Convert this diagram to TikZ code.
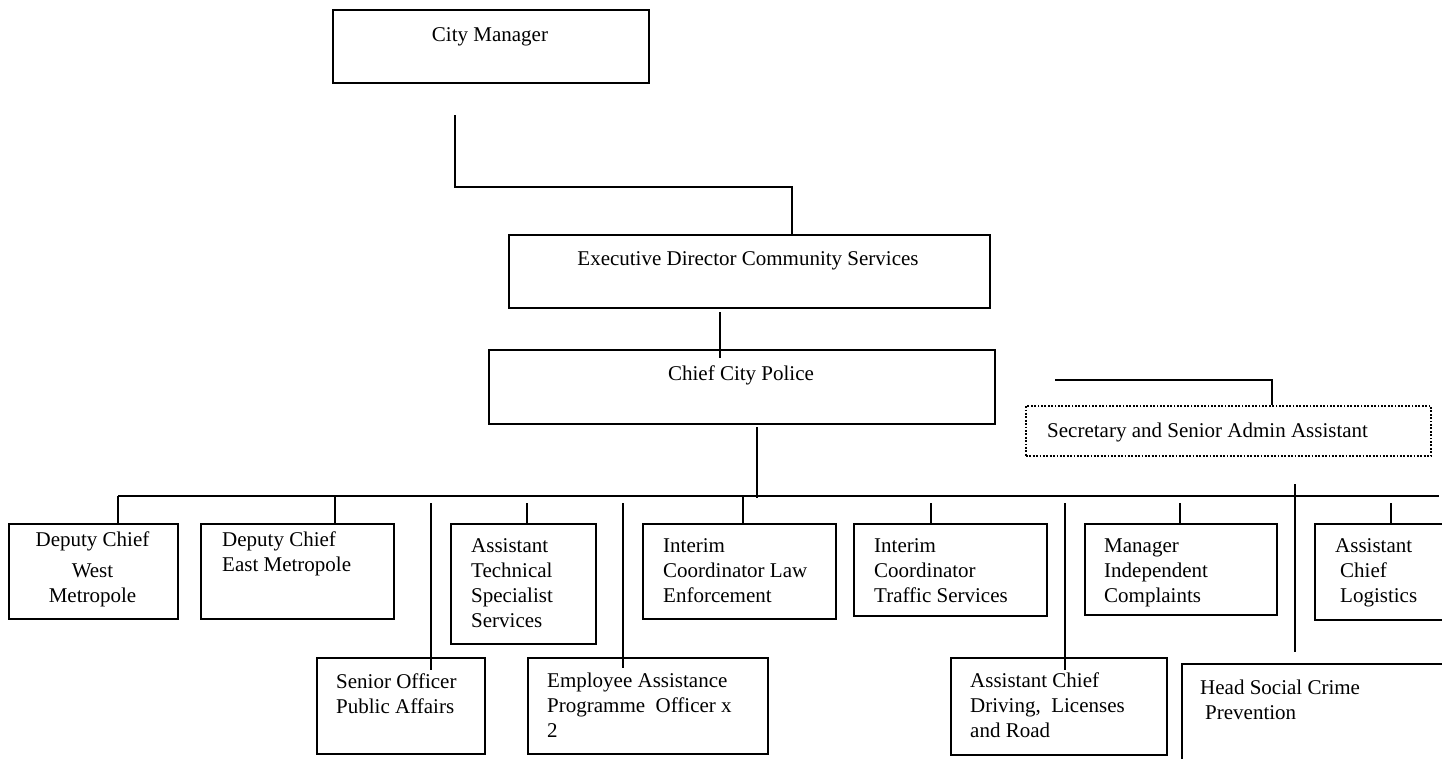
\documentclass[tikz,border=0pt]{standalone}
\usepackage{fontspec}
\setmainfont{Liberation Serif}
\newcommand{\lefttab}[1]{\begin{tabular}[t]{@{}l@{}}#1\end{tabular}}
\newcommand{\centtab}[1]{\begin{tabular}[t]{@{}c@{}}#1\end{tabular}}
\begin{document}
\begin{tikzpicture}[x=1pt,y=-1pt,
  box/.style={draw, line width=1.6pt, rectangle, inner sep=0pt, anchor=north west},
  dotbox/.style={box, dash pattern=on 1.8pt off 1.6pt, line width=1.8pt},
  txt/.style={inner sep=0pt, font=\fontsize{21}{25}\selectfont},
  ltxt/.style={txt, anchor=base west},
  ctxt/.style={txt, anchor=base},
  conn/.style={line width=1.6pt}]
\useasboundingbox (0,0) rectangle (1442,758);
\clip (0,0) rectangle (1442,758);

% top boxes
\node[box, minimum width=316pt, minimum height=73pt] (cm) at (332,9) {};
\node[ctxt] (cmt) at (490,41) {\centtab{City Manager}};
\node[box, minimum width=481pt, minimum height=73pt] (exec) at (508,234) {};
\node[ctxt] (exect) at (748,265) {\centtab{Executive Director Community Services}};
\node[box, minimum width=506pt, minimum height=74pt] (chief) at (488,349) {};
\node[ctxt] (chieft) at (741,380) {\centtab{Chief City Police}};
\node[dotbox, minimum width=405pt, minimum height=50pt] (sec) at (1025,405) {};
\node[ltxt] (sect) at (1047,437) {\lefttab{Secretary and Senior Admin Assistant}};

% first row
\node[box, minimum width=169pt, minimum height=95pt] (west) at (8,523) {};
\node[ctxt] (westt) at (92.5,546) {\centtab{Deputy Chief\\[6pt]West\\Metropole}};
\node[box, minimum width=193pt, minimum height=95pt] (east) at (200,523) {};
\node[ltxt] (eastt) at (222,546) {\lefttab{Deputy Chief\\East Metropole}};
\node[box, minimum width=145pt, minimum height=120pt] (tech) at (450,523) {};
\node[ltxt] (techt) at (471,552) {\lefttab{Assistant\\Technical\\Specialist\\Services}};
\node[box, minimum width=193pt, minimum height=95pt] (law) at (642,523) {};
\node[ltxt] (lawt) at (663,552) {\lefttab{Interim\\Coordinator Law\\Enforcement}};
\node[box, minimum width=193pt, minimum height=92pt] (traffic) at (853,523) {};
\node[ltxt] (traffict) at (874,552) {\lefttab{Interim\\Coordinator\\Traffic Services}};
\node[box, minimum width=192pt, minimum height=91pt] (manager) at (1084,523) {};
\node[ltxt] (managert) at (1104,552) {\lefttab{Manager\\Independent\\Complaints}};
\node[box, minimum width=200pt, minimum height=96pt] (logis) at (1314,523) {};
\node[ltxt] (logist) at (1335,552) {\lefttab{Assistant\\\hspace{5pt}Chief\\\hspace{5pt}Logistics}};

% second row
\node[box, minimum width=168pt, minimum height=96pt] (senior) at (316,657) {};
\node[ltxt] (seniort) at (336,688) {\lefttab{Senior Officer\\Public Affairs}};
\node[box, minimum width=240pt, minimum height=96pt] (emp) at (527,657) {};
\node[ltxt] (empt) at (547,687) {\lefttab{Employee Assistance\\Programme~ Officer x\\2}};
\node[box, minimum width=216pt, minimum height=97pt] (driving) at (950,657) {};
\node[ltxt] (drivingt) at (970,687) {\lefttab{Assistant Chief\\Driving,~ Licenses\\and Road}};
\node[box, minimum width=300pt, minimum height=150pt] (head) at (1181,663) {};
\node[ltxt] (headt) at (1200,694) {\lefttab{Head Social Crime\\\hspace{5pt}Prevention}};

% connector coordinates
\coordinate (cm1) at (455,115);
\coordinate (cm2) at (792,187);
\coordinate (ex1) at (720,312);
\coordinate (ch1) at (757,427);
\coordinate (ch2) at (757,498);
\coordinate (busL) at (118,496);
\coordinate (busR) at (1439,496);
\coordinate (s1) at (1055,380);
\coordinate (s2) at (1272,380);
\coordinate (cEast) at (335,496);
\coordinate (cTech) at (527,503);
\coordinate (cLaw) at (743,496);
\coordinate (cTraffic) at (931,503);
\coordinate (cManager) at (1180,503);
\coordinate (cLogis) at (1391,503);
\coordinate (cSenior) at (431,503);
\coordinate (cEmp) at (623,503);
\coordinate (cDriving) at (1065,503);
\coordinate (cHead) at (1295,484);
\coordinate (cHead2) at (1295,652);

% connectors
\draw[conn] (cm1) |- (cm2) -- (cm2 |- exec.north);
\draw[conn, shorten >=-9pt] (ex1) -- (ex1 |- chief.north);
\draw[conn] (ch1) -- (ch2);
\draw[conn] (s1) -- (s2) -- (s2 |- sec.north);
\draw[conn] (busL) -- (busR);
\draw[conn] (busL) -- (busL |- west.north);
\draw[conn] (cEast) -- (cEast |- east.north);
\draw[conn] (cTech) -- (cTech |- tech.north);
\draw[conn] (cLaw) -- (cLaw |- law.north);
\draw[conn] (cTraffic) -- (cTraffic |- traffic.north);
\draw[conn] (cManager) -- (cManager |- manager.north);
\draw[conn] (cLogis) -- (cLogis |- logis.north);
\draw[conn, shorten >=-13pt] (cSenior) -- (cSenior |- senior.north);
\draw[conn, shorten >=-11pt] (cEmp) -- (cEmp |- emp.north);
\draw[conn, shorten >=-13pt] (cDriving) -- (cDriving |- driving.north);
\draw[conn] (cHead) -- (cHead2);
\end{tikzpicture}
\end{document}
